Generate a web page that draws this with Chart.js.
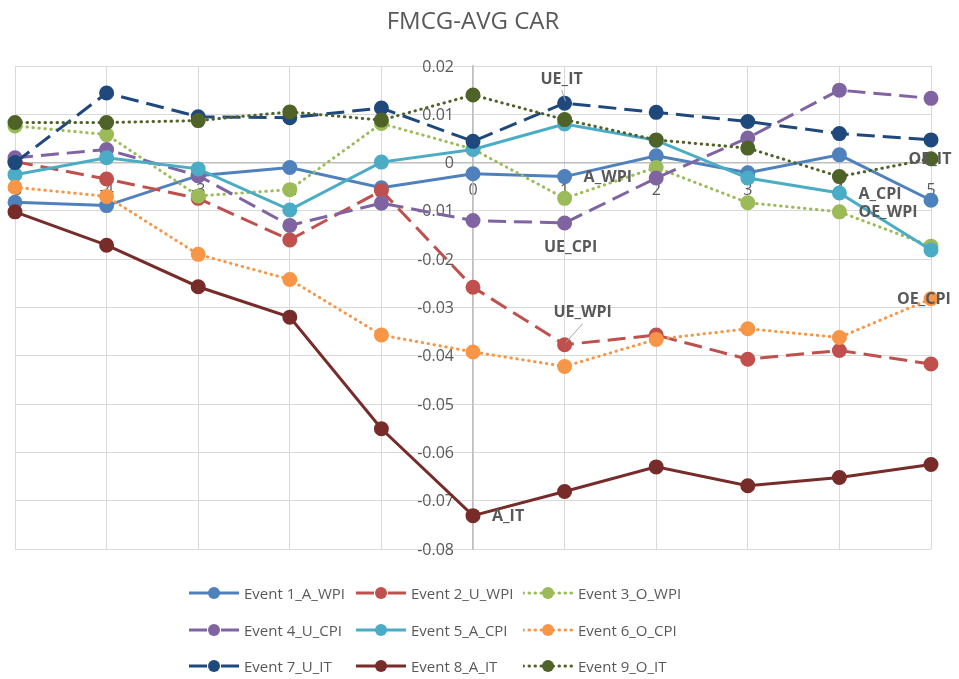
<!DOCTYPE html>
<html>
<head>
<meta charset="utf-8">
<script src="https://cdn.jsdelivr.net/npm/chart.js@4.4.1/dist/chart.umd.min.js"></script>
<style>
    html, body { margin: 0; padding: 0; background: #fff; }
    #wrap { position: relative; width: 959px; height: 679px; }
    #legend { position: absolute; left: 189px; top: 575px; display: grid;
              grid-template-columns: 167px 167px 167px; grid-auto-rows: 36.5px;
              font-family: 'Open Sans', sans-serif; font-size: 15px; color: #595959; }
    .item { display: flex; align-items: center; white-space: nowrap; }
    .item svg { margin-right: 5px; flex: none; }
</style>
</head>
<body>
<div id="wrap">
    <canvas id="chart" width="959" height="679"></canvas>
    <div id="legend"></div>
</div>
<script>
const xValues = [-5, -4, -3, -2, -1, 0, 1, 2, 3, 4, 5];

const seriesNames = [
    'Event 1_A_WPI', 'Event 2_U_WPI', 'Event 3_O_WPI',
    'Event 4_U_CPI', 'Event 5_A_CPI', 'Event 6_O_CPI',
    'Event 7_U_IT', 'Event 8_A_IT', 'Event 9_O_IT'
];

const event1 = [-0.0082, -0.0089, -0.0027, -0.0010, -0.0052, -0.0023, -0.0029, 0.0014, -0.0021, 0.0016, -0.0078];
const event2 = [0.0002, -0.0034, -0.0074, -0.0160, -0.0058, -0.0258, -0.0377, -0.0357, -0.0407, -0.0389, -0.0417];
const event3 = [0.0076, 0.0058, -0.0069, -0.0056, 0.0081, 0.0028, -0.0074, -0.0010, -0.0083, -0.0102, -0.0173];
const event4 = [0.0010, 0.0027, -0.0027, -0.0130, -0.0084, -0.0120, -0.0125, -0.0032, 0.0051, 0.0150, 0.0133];
const event5 = [-0.0025, 0.0010, -0.0013, -0.0098, 0.0001, 0.0027, 0.0080, 0.0046, -0.0032, -0.0063, -0.0181];
const event6 = [-0.0051, -0.0070, -0.0190, -0.0242, -0.0357, -0.0392, -0.0422, -0.0366, -0.0344, -0.0362, -0.0282];
const event7 = [0.0000, 0.0144, 0.0095, 0.0093, 0.0113, 0.0044, 0.0123, 0.0104, 0.0085, 0.0060, 0.0047];
const event8 = [-0.0102, -0.0171, -0.0257, -0.0320, -0.0551, -0.0731, -0.0681, -0.0630, -0.0669, -0.0652, -0.0625];
const event9 = [0.0083, 0.0083, 0.0087, 0.0105, 0.0088, 0.0140, 0.0089, 0.0047, 0.0030, -0.0029, 0.0008];

const seriesValues = [event1, event2, event3, event4, event5, event6, event7, event8, event9];

// labels written next to single points: series index, point index, text
const pointLabels = [
    { series: 6, index: 6, text: 'UE_IT', dx: -3, dy: -24, align: 'center', leader: true },
    { series: 0, index: 6, text: 'A_WPI', dx: 19, dy: 1, align: 'left' },
    { series: 3, index: 6, text: 'UE_CPI', dx: 6, dy: 24, align: 'center' },
    { series: 1, index: 6, text: 'UE_WPI', dx: 18, dy: -32, align: 'center', leader: true },
    { series: 7, index: 5, text: 'A_IT', dx: 19, dy: 1, align: 'left' },
    { series: 4, index: 9, text: 'A_CPI', dx: 19, dy: 1, align: 'left' },
    { series: 2, index: 9, text: 'OE_WPI', dx: 19, dy: 1, align: 'left' },
    { series: 8, index: 10, text: 'OE_IT', dx: -1, dy: 1, align: 'center' },
    { series: 5, index: 10, text: 'OE_CPI', dx: -7, dy: 1, align: 'center' }
];

const colors = ['#4F81BD', '#C0504D', '#9BBB59', '#8064A2', '#4BACC6', '#F79646', '#1F497D', '#772C2A', '#4F6228'];
const styles = ['solid', 'dash', 'dot', 'dash', 'solid', 'dot', 'dash', 'solid', 'dot'];

const dashFor = { solid: [], dash: [18, 8], dot: [0.5, 5.5] };
const legendDash = { solid: 'none', dash: '18 14', dot: '0.5 5.5' };

const datasets = seriesValues.map((vals, i) => ({
    label: seriesNames[i],
    data: vals.map((v, j) => ({ x: xValues[j], y: v })),
    borderColor: colors[i],
    backgroundColor: colors[i],
    pointBackgroundColor: colors[i],
    pointBorderColor: colors[i],
    borderWidth: 3,
    borderDash: dashFor[styles[i]],
    borderCapStyle: styles[i] === 'dot' ? 'round' : 'butt',
    pointRadius: 6,
    pointHoverRadius: 6,
    tension: 0,
    clip: false,
    order: 9 - i
}));

const tickFont = { family: 'Open Sans', size: 16 };

// y tick labels sit left of the y axis, which crosses at x = 0
const yLabelPlugin = {
    id: 'yLabels',
    beforeDatasetsDraw(chart) {
        const ctx = chart.ctx;
        const xs = chart.scales.x, ys = chart.scales.y;
        const axisX = xs.getPixelForValue(0);
        ctx.save();
        ctx.font = '16px "Open Sans", sans-serif';
        ctx.fillStyle = '#595959';
        ctx.textAlign = 'right';
        ctx.textBaseline = 'middle';
        ys.ticks.forEach(t => {
            ctx.fillText(String(Number(t.value.toFixed(2))), axisX - 19, ys.getPixelForValue(t.value) + 1);
        });
        ctx.restore();
    }
};

const labelPlugin = {
    id: 'pointLabels',
    afterDatasetsDraw(chart) {
        const ctx = chart.ctx;
        ctx.save();
        ctx.font = 'bold 16px "Open Sans", sans-serif';
        ctx.fillStyle = '#595959';
        ctx.textBaseline = 'middle';
        pointLabels.forEach(l => {
            const pt = chart.getDatasetMeta(l.series).data[l.index];
            const x = pt.x + l.dx, y = pt.y + l.dy;
            if (l.leader) {
                ctx.strokeStyle = '#a6a6a6';
                ctx.lineWidth = 1;
                ctx.beginPath();
                ctx.moveTo(x, y + 11);
                ctx.lineTo(pt.x + 1, pt.y - 2);
                ctx.stroke();
            }
            ctx.textAlign = l.align;
            ctx.fillText(l.text, x, y);
        });
        ctx.restore();
    }
};

new Chart(document.getElementById('chart'), {
    type: 'line',
    data: { datasets: datasets },
    options: {
        responsive: false,
        animation: false,
        layout: { padding: { left: 15, right: 28, top: 0, bottom: 130 } },
        plugins: {
            legend: { display: false },
            tooltip: { enabled: false },
            title: {
                display: true,
                text: 'FMCG-AVG CAR',
                color: '#595959',
                font: { family: 'Open Sans', size: 24, weight: 'normal', lineHeight: 1.2 },
                padding: { top: 7.6, bottom: 29.6 }
            }
        },
        scales: {
            x: {
                type: 'linear',
                min: -5, max: 5,
                position: { y: 0 },
                afterFit: s => { s.height = 0; s.paddingLeft = 0; s.paddingRight = 0; },
                ticks: { stepSize: 1, color: '#595959', font: tickFont, padding: 18,
                         callback: v => String(v) },
                grid: { color: '#d9d9d9', lineWidth: 1, drawTicks: false },
                border: { color: '#bfbfbf', width: 1.5 }
            },
            y: {
                type: 'linear',
                min: -0.08, max: 0.02,
                position: { x: 0 },
                afterFit: s => { s.width = 0; },
                ticks: { stepSize: 0.01, display: false },
                grid: { color: '#d9d9d9', lineWidth: 1, drawTicks: false },
                border: { color: '#bfbfbf', width: 1.5 }
            }
        }
    },
    plugins: [yLabelPlugin, labelPlugin]
});

// legend in three columns, like the reference
const legendEl = document.getElementById('legend');
legendEl.innerHTML = seriesNames.map((name, i) => `
    <div class="item">
        <svg width="50" height="14">
            <line x1="0" y1="7" x2="50" y2="7" stroke="${colors[i]}" stroke-width="3"
                  stroke-dasharray="${legendDash[styles[i]]}" stroke-linecap="${styles[i] === 'dot' ? 'round' : 'butt'}"/>
            <circle cx="25" cy="7" r="6" fill="${colors[i]}"/>
        </svg>
        <span>${name}</span>
    </div>
`).join('');
</script>
</body>
</html>
